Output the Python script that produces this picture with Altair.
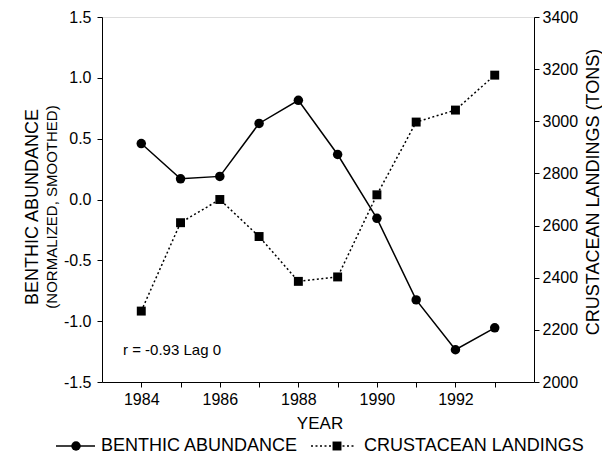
import altair as alt
import pandas as pd

years = [1984, 1985, 1986, 1987, 1988, 1989, 1990, 1991, 1992, 1993]
benthic = [0.46, 0.17, 0.19, 0.625, 0.815, 0.37, -0.155, -0.825, -1.235, -1.055]
crustacean = [2272, 2611, 2700, 2558, 2386, 2403, 2718, 2997, 3043, 3177]
left_ticks = [-1.5, -1.0, -0.5, 0.0, 0.5, 1.0, 1.5]
right_ticks = [2000, 2200, 2400, 2600, 2800, 3000, 3200, 3400]
legend_labels = ["BENTHIC ABUNDANCE", "CRUSTACEAN LANDINGS"]
FONT = "Liberation Sans"

df = pd.DataFrame({"year": years, "benthic": benthic, "crust": crustacean})

W, H = 432, 365

xenc = alt.X("year:Q", scale=alt.Scale(domain=[1983, 1994], nice=False, zero=False),
             axis=alt.Axis(values=years, format="d", title=None,
                           labelExpr="datum.value % 2 == 0 ? datum.label : ''",
                           tickSize=5, labelPadding=4, labelFontSize=16, labelFont=FONT,
                           labelColor="black", domainColor="black", tickColor="black",
                           grid=False, labelFlush=False))

yleft = alt.Y("benthic:Q", scale=alt.Scale(domain=[-1.5, 1.5], nice=False, zero=False),
              axis=alt.Axis(orient="left", values=left_ticks, title=None,
                            labelExpr="datum.value < 0 ? '-' + format(-datum.value, '.1f') : format(datum.value, '.1f')",
                            tickSize=5, labelPadding=6, labelFontSize=16, labelFont=FONT,
                            labelColor="black", domainColor="black", tickColor="black",
                            grid=False))
yright = alt.Y("crust:Q", scale=alt.Scale(domain=[2000, 3400], nice=False, zero=False),
               axis=alt.Axis(orient="right", values=right_ticks, format="d", title=None,
                             tickSize=5, labelPadding=3, labelFontSize=16, labelFont=FONT,
                             labelColor="black", domainColor="black", tickColor="black",
                             grid=False))

base = alt.Chart(df)
bline = base.mark_line(color="black", strokeWidth=1.5).encode(x=xenc, y=yleft)
bpts = base.mark_point(shape="circle", filled=True, size=90, color="black", opacity=1).encode(x=xenc, y=yleft)
cline = base.mark_line(color="black", strokeWidth=1.5, strokeDash=[2, 2.5]).encode(x=xenc, y=yright)
cpts = base.mark_square(size=80, color="black", opacity=1).encode(x=xenc, y=yright)

left = alt.layer(bline, bpts)
right = alt.layer(cline, cpts)

def txt(label, x, y, size, angle=0, align="center"):
    kw = dict(fontSize=size, font=FONT, color="black", align=align, baseline="middle")
    if angle:
        kw["angle"] = angle
    return alt.Chart(pd.DataFrame({"t": [label]})).mark_text(**kw).encode(
        x=alt.value(x), y=alt.value(y), text="t:N")

LY = 429
ann = [
    txt("r = -0.93 Lag 0", 21, 333, 15, align="left"),
    txt("YEAR", 218, 407, 17),
    txt("BENTHIC ABUNDANCE", -69, 190, 18, angle=270),
    txt("(NORMALIZED, SMOOTHED)", -50, 190, 15, angle=270),
    txt("CRUSTACEAN LANDINGS (TONS)", 492, 175, 18, angle=270),
    txt(legend_labels[0], -1, LY, 18, align="left"),
    txt(legend_labels[1], 262, LY, 18, align="left"),
]

legdf = pd.DataFrame({"k": [0]})
leg_line1 = alt.Chart(legdf).mark_rule(color="black", strokeWidth=1.5).encode(
    x=alt.value(-46), x2=alt.value(-7), y=alt.value(LY))
leg_pt1 = alt.Chart(legdf).mark_point(shape="circle", filled=True, size=90, color="black", opacity=1).encode(
    x=alt.value(-26), y=alt.value(LY))
leg_line2 = alt.Chart(legdf).mark_rule(color="black", strokeWidth=1.5, strokeDash=[2, 2.5]).encode(
    x=alt.value(209), x2=alt.value(253), y=alt.value(LY))
leg_pt2 = alt.Chart(legdf).mark_square(size=80, color="black", opacity=1).encode(
    x=alt.value(235), y=alt.value(LY))

chart = alt.layer(left, right, *ann, leg_line1, leg_pt1, leg_line2, leg_pt2).resolve_scale(
    y="independent"
).properties(
    width=W, height=H,
    autosize=alt.AutoSizeParams(type="none"),
    padding={"left": 94, "top": 9, "right": 68, "bottom": 79},
).configure_view(stroke="black", strokeWidth=1).configure(background="white")

chart.save("out.html", embed_options={"renderer": "svg", "actions": False})
